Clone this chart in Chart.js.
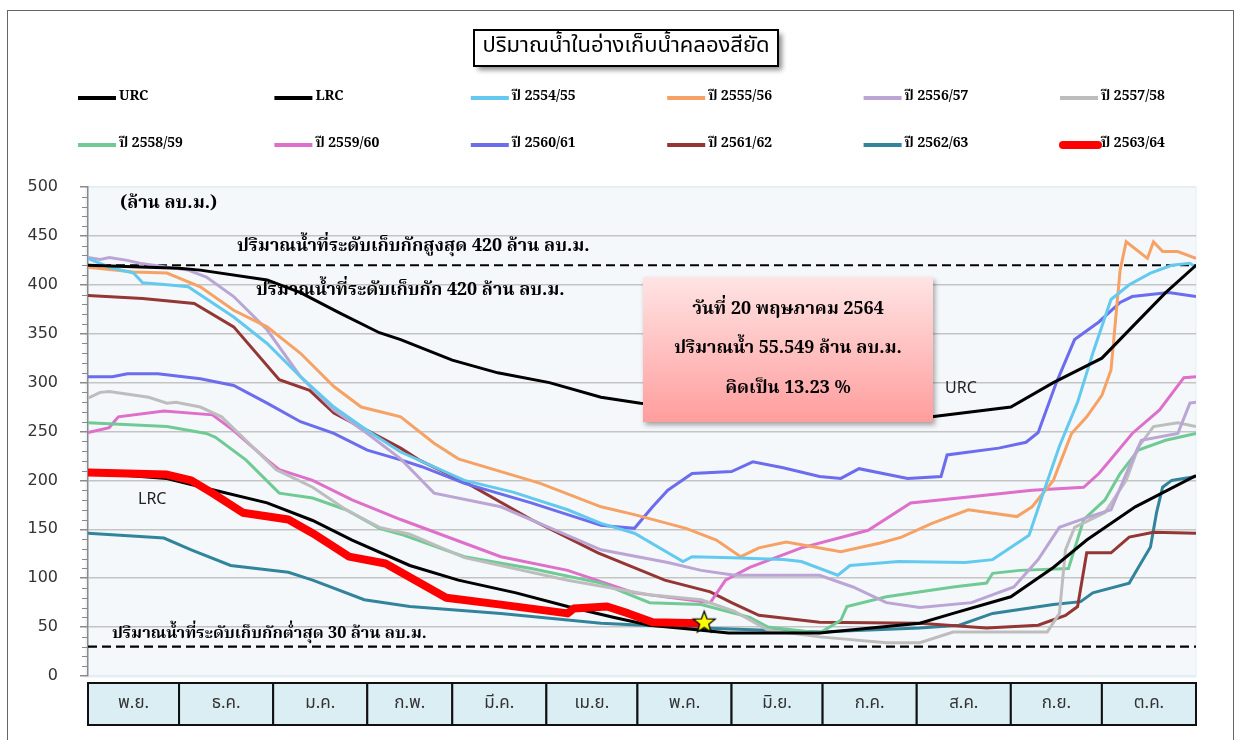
<!DOCTYPE html>
<html>
<head>
<meta charset="utf-8">
<script src="https://cdn.jsdelivr.net/npm/chart.js@4.4.1/dist/chart.umd.min.js"></script>
<style>
  html, body { margin: 0; padding: 0; background: #fff; }
  #wrap { position: relative; width: 1236px; height: 740px; overflow: hidden; }
  #frame { position: absolute; left: 7px; top: 10px; width: 1227px; height: 760px; border: 1.5px solid #666; box-sizing: border-box; }
  canvas { position: absolute; left: 0; top: 0; }
</style>
</head>
<body>
<div id="wrap"><div id="frame"></div><canvas id="chart" width="1236" height="740"></canvas></div>
<script>
// days counted from 1 Nov, values in million m3
var months = ['พ.ย.', 'ธ.ค.', 'ม.ค.', 'ก.พ.', 'มี.ค.', 'เม.ย.', 'พ.ค.', 'มิ.ย.', 'ก.ค.', 'ส.ค.', 'ก.ย.', 'ต.ค.'];
var monthStart = [0, 30, 61, 92, 120, 151, 181, 212, 242, 273, 304, 334, 365];
var yTicks = [0, 50, 100, 150, 200, 250, 300, 350, 400, 450, 500];

var urcDays = [0, 30, 37, 59, 70, 83, 96, 103, 120, 135, 152, 169, 182, 212, 242, 278, 304, 318, 334, 344, 355, 365];
var urcVals = [420, 417, 415, 405, 392, 371, 351, 344, 323, 310, 300, 285, 279, 272, 266, 265, 275, 300, 325, 357, 392, 420];

var lrcDays = [0, 26, 39, 59, 74, 87, 106, 122, 141, 158, 173, 185, 198, 211, 241, 274, 285, 304, 318, 329, 345, 365];
var lrcVals = [208, 202, 192, 177, 159, 139, 113, 98, 85, 71, 60, 52, 48, 44, 44, 54, 64, 81, 111, 139, 173, 205];

var y2554Days = [0, 7, 15, 18, 26, 33, 48, 59, 70, 81, 92, 103, 124, 140, 158, 169, 180, 196, 199, 212, 229, 235, 247, 251, 267, 289, 298, 310, 315, 320, 326, 331, 337, 343, 350, 357, 363, 365];
var y2554Vals = [427, 418, 412, 402, 400, 398, 367, 340, 306, 275, 251, 229, 200, 188, 170, 156, 146, 117, 122, 121, 119, 117, 103, 113, 117, 116, 119, 144, 190, 235, 280, 330, 385, 400, 412, 420, 422, 418];

var y2555Days = [0, 15, 26, 37, 48, 59, 70, 81, 90, 98, 103, 114, 122, 149, 169, 180, 197, 207, 215, 221, 230, 248, 261, 268, 278, 290, 306, 311, 318, 324, 329, 334, 337, 340, 342, 349, 351, 354, 359, 365];
var y2555Vals = [418, 413, 412, 398, 374, 357, 330, 296, 275, 269, 265, 238, 222, 197, 173, 165, 151, 139, 122, 131, 137, 127, 136, 142, 156, 170, 163, 173, 200, 248, 265, 287, 313, 415, 444, 427, 444, 434, 434, 427];

var y2556Days = [0, 4, 7, 13, 17, 33, 39, 48, 59, 70, 81, 92, 103, 114, 136, 169, 191, 202, 213, 241, 252, 263, 274, 291, 305, 309, 313, 320, 329, 337, 343, 347, 359, 363, 365];
var y2556Vals = [428, 426, 428, 425, 422, 415, 408, 388, 354, 306, 272, 248, 222, 187, 173, 129, 116, 108, 103, 103, 91, 75, 70, 75, 91, 105, 119, 152, 162, 170, 214, 241, 248, 279, 280];

var y2557Days = [0, 4, 7, 20, 26, 29, 37, 44, 53, 62, 74, 85, 96, 106, 124, 158, 185, 202, 213, 224, 241, 263, 274, 285, 316, 320, 322, 325, 335, 342, 346, 351, 359, 365];
var y2557Vals = [284, 290, 291, 285, 279, 280, 275, 265, 238, 211, 193, 170, 152, 145, 121, 98, 83, 78, 66, 47, 40, 34, 34, 45, 45, 64, 129, 152, 167, 200, 234, 255, 259, 255];

var y2558Days = [0, 26, 39, 42, 52, 63, 74, 85, 96, 103, 124, 146, 169, 185, 202, 218, 224, 241, 248, 250, 263, 285, 296, 298, 307, 323, 328, 335, 340, 346, 355, 365];
var y2558Vals = [259, 255, 248, 244, 221, 187, 182, 170, 151, 145, 122, 110, 95, 75, 73, 60, 50, 44, 57, 71, 81, 91, 95, 105, 108, 110, 160, 180, 207, 231, 241, 248];

var y2559Days = [0, 7, 10, 25, 41, 48, 59, 63, 74, 87, 103, 136, 158, 180, 205, 210, 218, 235, 257, 271, 290, 311, 328, 333, 336, 344, 353, 361, 365];
var y2559Vals = [249, 254, 265, 271, 267, 251, 221, 211, 200, 180, 160, 122, 108, 85, 75, 98, 111, 131, 149, 177, 183, 190, 193, 207, 218, 248, 272, 305, 306];

var y2560Days = [0, 8, 13, 23, 37, 48, 59, 70, 81, 92, 103, 110, 124, 146, 169, 180, 186, 191, 199, 212, 219, 229, 241, 248, 254, 270, 281, 283, 300, 309, 313, 319, 325, 333, 340, 344, 356, 365];
var y2560Vals = [306, 306, 309, 309, 304, 297, 279, 260, 248, 231, 221, 214, 197, 177, 154, 151, 173, 190, 207, 209, 219, 213, 204, 202, 212, 202, 204, 226, 233, 239, 249, 300, 344, 362, 382, 388, 392, 388];

var y2561Days = [0, 18, 35, 48, 63, 73, 81, 103, 109, 125, 146, 168, 190, 205, 212, 221, 241, 274, 296, 313, 322, 326, 329, 337, 343, 351, 365];
var y2561Vals = [389, 386, 381, 357, 303, 292, 269, 233, 221, 197, 160, 126, 98, 86, 75, 62, 55, 54, 49, 52, 62, 71, 126, 126, 142, 147, 146];

var y2562Days = [0, 25, 34, 47, 66, 74, 91, 106, 136, 169, 202, 241, 274, 287, 298, 318, 327, 331, 343, 346, 350, 352, 354, 357, 365];
var y2562Vals = [146, 141, 129, 113, 106, 98, 78, 71, 64, 54, 49, 45, 49, 52, 64, 73, 76, 85, 95, 111, 132, 167, 193, 200, 204];

var y2563Days = [0, 26, 34, 41, 51, 66, 74, 86, 98, 118, 136, 158, 160, 171, 178, 186, 202, 203];
var y2563Vals = [208, 206, 200, 187, 167, 160, 146, 122, 115, 80, 73, 64, 69, 71, 64, 55, 54, 55.5];

var todayDay = 203;
var todayVal = 55.549;
var maxLevel = 420;
var minLevel = 30;

var SERIF = '"Noto Serif Thai", "Liberation Serif", "DejaVu Serif", serif';
var SANS = '"Noto Sans Thai", "DejaVu Sans", "Noto Sans", sans-serif';

function pts(days, vals) {
  return days.map(function (d, i) { return { x: d, y: vals[i] }; });
}

function series(label, days, vals, color, width) {
  return {
    label: label,
    data: pts(days, vals),
    borderColor: color,
    backgroundColor: color,
    borderWidth: width || 3,
    pointRadius: 0,
    tension: 0,
    fill: false,
    order: 2
  };
}

var starImg = document.createElement('canvas');
starImg.width = 26; starImg.height = 26;
(function () {
  var c = starImg.getContext('2d');
  c.beginPath();
  for (var i = 0; i < 10; i++) {
    var r = i % 2 === 0 ? 11.5 : 4.8;
    var a = -Math.PI / 2 + i * Math.PI / 5;
    c.lineTo(13 + r * Math.cos(a), 14 + r * Math.sin(a));
  }
  c.closePath();
  c.fillStyle = '#ffff00';
  c.fill();
  c.lineWidth = 1.3;
  c.strokeStyle = '#000';
  c.stroke();
})();

var datasets = [
  series('URC', urcDays, urcVals, '#000000'),
  series('LRC', lrcDays, lrcVals, '#000000'),
  series('ปี 2554/55', y2554Days, y2554Vals, '#63c9ee'),
  series('ปี 2555/56', y2555Days, y2555Vals, '#f6a265'),
  series('ปี 2556/57', y2556Days, y2556Vals, '#bba5d4'),
  series('ปี 2557/58', y2557Days, y2557Vals, '#bdbdbd'),
  series('ปี 2558/59', y2558Days, y2558Vals, '#6fca94'),
  series('ปี 2559/60', y2559Days, y2559Vals, '#de6fca'),
  series('ปี 2560/61', y2560Days, y2560Vals, '#6b6cee'),
  series('ปี 2561/62', y2561Days, y2561Vals, '#943634'),
  series('ปี 2562/63', y2562Days, y2562Vals, '#31849b'),
  series('ปี 2563/64', y2563Days, y2563Vals, '#ff0000', 8)
];
datasets[11].order = 1;
datasets[11].borderCapStyle = 'round';
datasets[11].borderJoinStyle = 'round';

var legendCount = datasets.length;

datasets.push({
  label: 'max', data: [{ x: 0, y: maxLevel }, { x: 365, y: maxLevel }],
  borderColor: '#000', borderWidth: 2.2, borderDash: [9, 5], pointRadius: 0, order: 3
});
datasets.push({
  label: 'min', data: [{ x: 0, y: minLevel }, { x: 365, y: minLevel }],
  borderColor: '#000', borderWidth: 2.2, borderDash: [9, 5], pointRadius: 0, order: 3
});
datasets.push({
  label: 'today', data: [{ x: todayDay, y: todayVal }],
  showLine: false, pointStyle: starImg, pointRadius: 12, order: 0
});

function text(ctx, s, x, y, font, align, color) {
  ctx.font = font;
  ctx.textAlign = align || 'left';
  ctx.textBaseline = 'middle';
  ctx.fillStyle = color || '#000';
  ctx.fillText(s, x, y);
}

var decor = {
  id: 'decor',
  beforeDraw: function (chart) {
    var a = chart.chartArea, ctx = chart.ctx;
    ctx.save();
    ctx.fillStyle = '#f5f8fb';
    ctx.fillRect(a.left - 2, a.top, a.right - a.left + 2, a.bottom - a.top + 1);
    ctx.strokeStyle = '#e2edf3';
    ctx.lineWidth = 1;
    ctx.strokeRect(a.left - 2, a.top, a.right - a.left + 2, a.bottom - a.top + 1);
    ctx.restore();
  },
  afterDraw: function (chart) {
    var a = chart.chartArea, ctx = chart.ctx;
    var xs = chart.scales.x, ys = chart.scales.y;
    ctx.save();

    // minor ticks on the y axis
    ctx.strokeStyle = '#8a8a8a';
    ctx.lineWidth = 1;
    for (var v = 10; v < 500; v += 10) {
      if (v % 50 === 0) continue;
      var py = Math.round(ys.getPixelForValue(v)) + 0.5;
      ctx.beginPath();
      ctx.moveTo(a.left - 6, py);
      ctx.lineTo(a.left, py);
      ctx.stroke();
    }

    // month boxes
    var top = a.bottom + 7, h = 42;
    for (var i = 0; i < months.length; i++) {
      var x0 = xs.getPixelForValue(monthStart[i]);
      var x1 = xs.getPixelForValue(monthStart[i + 1]);
      ctx.fillStyle = '#dbeef4';
      ctx.fillRect(x0, top, x1 - x0, h);
      ctx.strokeStyle = '#111';
      ctx.lineWidth = 2;
      ctx.strokeRect(x0, top, x1 - x0, h);
      text(ctx, months[i], (x0 + x1) / 2, top + h / 2 + 1, '17px ' + SANS, 'center', '#333');
    }

    // title box
    ctx.save();
    ctx.shadowColor = 'rgba(0,0,0,0.45)';
    ctx.shadowOffsetX = 4;
    ctx.shadowOffsetY = 4;
    ctx.shadowBlur = 5;
    ctx.fillStyle = '#fff';
    ctx.fillRect(474, 30, 304, 36);
    ctx.restore();
    ctx.strokeStyle = '#000';
    ctx.lineWidth = 2;
    ctx.strokeRect(474, 30, 304, 36);
    text(ctx, 'ปริมาณน้ำในอ่างเก็บน้ำคลองสียัด', 626, 48, '22px ' + SANS, 'center');

    // legend
    for (var k = 0; k < legendCount; k++) {
      var ds = chart.data.datasets[k];
      var col = k % 6, row = Math.floor(k / 6);
      var lx = 78 + col * 196.4, ly = 98 + row * 47;
      var thick = ds.borderWidth > 3;
      ctx.beginPath();
      ctx.strokeStyle = ds.borderColor;
      ctx.lineWidth = thick ? 8 : 4;
      ctx.lineCap = thick ? 'round' : 'butt';
      ctx.moveTo(thick ? lx + 3 : lx, ly);
      ctx.lineTo(lx + 38, ly);
      ctx.stroke();
      text(ctx, ds.label, lx + 41, ly, 'bold 14px ' + SERIF, 'left');
    }
    ctx.lineCap = 'butt';

    // axis unit and reference line labels
    text(ctx, '(ล้าน ลบ.ม.)', 120, 205, 'bold 18px ' + SERIF);
    text(ctx, 'ปริมาณน้ำที่ระดับเก็บกักสูงสุด 420 ล้าน ลบ.ม.', 237, ys.getPixelForValue(maxLevel) - 17, 'bold 18px ' + SERIF);
    text(ctx, 'ปริมาณน้ำที่ระดับเก็บกัก 420 ล้าน ลบ.ม.', 256, ys.getPixelForValue(maxLevel) + 27, 'bold 18px ' + SERIF);
    text(ctx, 'ปริมาณน้ำที่ระดับเก็บกักต่ำสุด 30 ล้าน ลบ.ม.', 112, ys.getPixelForValue(minLevel) - 11, 'bold 16.5px ' + SERIF);

    // curve labels
    text(ctx, 'URC', 945, 390, '16px ' + SANS, 'left', '#222');
    text(ctx, 'LRC', 138, 501, '16px ' + SANS, 'left', '#222');

    // info box
    ctx.save();
    ctx.shadowColor = 'rgba(0,0,0,0.35)';
    ctx.shadowOffsetX = 2;
    ctx.shadowOffsetY = 3;
    ctx.shadowBlur = 5;
    var g = ctx.createLinearGradient(0, 277, 0, 422);
    g.addColorStop(0, '#ffe4e4');
    g.addColorStop(1, '#ff9d9d');
    ctx.fillStyle = g;
    ctx.fillRect(643, 277, 290, 145);
    ctx.restore();
    text(ctx, 'วันที่ 20 พฤษภาคม 2564', 788, 311, 'bold 18px ' + SERIF, 'center');
    text(ctx, 'ปริมาณน้ำ 55.549 ล้าน ลบ.ม.', 788, 350, 'bold 18px ' + SERIF, 'center');
    text(ctx, 'คิดเป็น 13.23 %', 788, 390, 'bold 18px ' + SERIF, 'center');

    ctx.restore();
  }
};

new Chart(document.getElementById('chart'), {
  type: 'line',
  data: { datasets: datasets },
  options: {
    responsive: false,
    animation: false,
    layout: { padding: { left: 28, right: 40, top: 187, bottom: 64 } },
    scales: {
      x: { type: 'linear', min: 0, max: 365, display: false },
      y: {
        min: 0,
        max: 500,
        afterFit: function (s) { s.width = 60; },
        afterBuildTicks: function (s) { s.ticks = yTicks.map(function (v) { return { value: v }; }); },
        ticks: { padding: 22, color: '#333', font: { family: 'DejaVu Sans', size: 16 } },
        grid: {
          color: function (c) { return (c.tick.value === 0 || c.tick.value === 500) ? '#e2edf3' : '#c4c4c4'; },
          tickColor: '#8a8a8a',
          lineWidth: 1.5,
          tickLength: 8
        },
        border: { display: true, color: '#8a8a8a', width: 1.5 }
      }
    },
    plugins: { legend: { display: false }, tooltip: { enabled: false } }
  },
  plugins: [decor]
});
</script>
</body>
</html>
